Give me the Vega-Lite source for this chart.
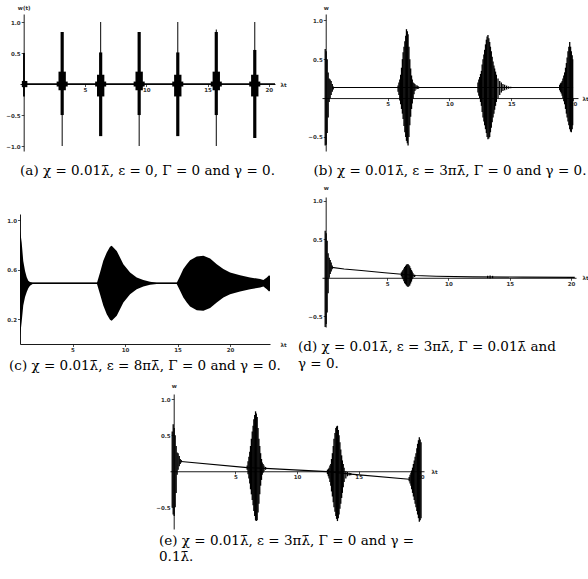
{
  "$schema": "https://vega.github.io/schema/vega-lite/v6.json",
  "background": "white",
  "padding": {"left": 5, "top": 5, "right": 0, "bottom": 0},
  "config": {
    "view": {"stroke": null},
    "axis": {"domainColor": "#000", "domainWidth": 0.9, "tickColor": "#000", "tickWidth": 0.7, "tickSize": 2.5, "labelFont": "DejaVu Sans", "labelFontSize": 5.5, "labelFontWeight": "bold", "labelColor": "#333", "labelPadding": 1, "grid": false, "labelOverlap": false, "labelFlush": false, "labelBound": false, "titleFont": "DejaVu Sans", "titleFontSize": 5.5, "titleFontWeight": "bold", "titleColor": "#333", "titleAngle": 0, "titlePadding": 0},
    "title": {"font": "DejaVu Serif", "fontSize": 13.5, "fontWeight": "normal", "color": "#000", "frame": "group"}
  },
  "datasets": {
    "a_rects": [
      {"t0": -0.05, "t1": 0.1, "lo": -0.2, "hi": 0.5},
      {"t0": -0.15, "t1": 0.3, "lo": -0.05, "hi": 0.05},
      {"t0": 3.10, "t1": 3.18, "lo": -1.0, "hi": 0.84},
      {"t0": 3.01, "t1": 3.27, "lo": -0.5, "hi": 0.84},
      {"t0": 2.84, "t1": 3.44, "lo": -0.1, "hi": 0.2},
      {"t0": 2.69, "t1": 3.59, "lo": -0.04, "hi": 0.04},
      {"t0": 6.24, "t1": 6.32, "lo": -0.84, "hi": 1.0},
      {"t0": 6.15, "t1": 6.41, "lo": -0.84, "hi": 0.51},
      {"t0": 5.98, "t1": 6.58, "lo": -0.2, "hi": 0.15},
      {"t0": 5.83, "t1": 6.73, "lo": -0.04, "hi": 0.04},
      {"t0": 9.38, "t1": 9.46, "lo": -1.0, "hi": 0.84},
      {"t0": 9.29, "t1": 9.55, "lo": -0.5, "hi": 0.84},
      {"t0": 9.12, "t1": 9.72, "lo": -0.1, "hi": 0.2},
      {"t0": 8.97, "t1": 9.87, "lo": -0.04, "hi": 0.04},
      {"t0": 12.53, "t1": 12.61, "lo": -0.84, "hi": 1.0},
      {"t0": 12.44, "t1": 12.70, "lo": -0.84, "hi": 0.51},
      {"t0": 12.27, "t1": 12.87, "lo": -0.2, "hi": 0.15},
      {"t0": 12.12, "t1": 13.02, "lo": -0.04, "hi": 0.04},
      {"t0": 15.67, "t1": 15.75, "lo": -1.0, "hi": 0.88},
      {"t0": 15.58, "t1": 15.84, "lo": -0.5, "hi": 0.84},
      {"t0": 15.41, "t1": 16.01, "lo": -0.1, "hi": 0.2},
      {"t0": 15.26, "t1": 16.16, "lo": -0.04, "hi": 0.04},
      {"t0": 18.81, "t1": 18.89, "lo": -0.87, "hi": 1.0},
      {"t0": 18.72, "t1": 18.98, "lo": -0.87, "hi": 0.55},
      {"t0": 18.55, "t1": 19.15, "lo": -0.2, "hi": 0.15},
      {"t0": 18.40, "t1": 19.30, "lo": -0.04, "hi": 0.04}
    ],
    "a_line": [{"t": 0, "w": 0}, {"t": 20.5, "w": 0}],
    "b_rules": [
      {"t": -0.04, "lo": -0.61, "hi": 0.63}, {"t": 0.04, "lo": -0.6, "hi": 0.6}, {"t": 0.12, "lo": -0.45, "hi": 0.5}, {"t": 0.2, "lo": -0.25, "hi": 0.33}, {"t": 0.28, "lo": -0.05, "hi": 0.25}, {"t": 0.36, "lo": 0.0, "hi": 0.24}, {"t": 0.44, "lo": 0.04, "hi": 0.22}, {"t": 0.53, "lo": 0.08, "hi": 0.18}, {"t": 0.61, "lo": 0.11, "hi": 0.15},
      {"t": 5.85, "lo": 0.08, "hi": 0.16}, {"t": 5.92, "lo": 0.04, "hi": 0.2}, {"t": 5.99, "lo": -0.03, "hi": 0.24}, {"t": 6.06, "lo": -0.08, "hi": 0.3}, {"t": 6.13, "lo": -0.14, "hi": 0.39}, {"t": 6.2, "lo": -0.2, "hi": 0.5}, {"t": 6.26, "lo": -0.27, "hi": 0.59}, {"t": 6.33, "lo": -0.36, "hi": 0.66}, {"t": 6.4, "lo": -0.44, "hi": 0.73}, {"t": 6.47, "lo": -0.5, "hi": 0.8}, {"t": 6.53, "lo": -0.55, "hi": 0.885}, {"t": 6.6, "lo": -0.58, "hi": 0.86}, {"t": 6.66, "lo": -0.61, "hi": 0.82}, {"t": 6.73, "lo": -0.5, "hi": 0.66}, {"t": 6.8, "lo": -0.35, "hi": 0.5}, {"t": 6.87, "lo": -0.24, "hi": 0.38}, {"t": 6.94, "lo": -0.14, "hi": 0.29}, {"t": 7.0, "lo": -0.07, "hi": 0.24}, {"t": 7.07, "lo": -0.01, "hi": 0.2}, {"t": 7.14, "lo": 0.05, "hi": 0.19}, {"t": 7.21, "lo": 0.09, "hi": 0.18}, {"t": 7.3, "lo": 0.11, "hi": 0.165}, {"t": 7.4, "lo": 0.115, "hi": 0.16}, {"t": 7.5, "lo": 0.12, "hi": 0.15},
      {"t": 12.31, "lo": 0.07, "hi": 0.2}, {"t": 12.38, "lo": 0.03, "hi": 0.24}, {"t": 12.45, "lo": 0.0, "hi": 0.27}, {"t": 12.52, "lo": -0.05, "hi": 0.31}, {"t": 12.59, "lo": -0.1, "hi": 0.35}, {"t": 12.65, "lo": -0.18, "hi": 0.43}, {"t": 12.72, "lo": -0.25, "hi": 0.5}, {"t": 12.79, "lo": -0.3, "hi": 0.56}, {"t": 12.85, "lo": -0.35, "hi": 0.62}, {"t": 12.92, "lo": -0.4, "hi": 0.69}, {"t": 12.99, "lo": -0.45, "hi": 0.75}, {"t": 13.05, "lo": -0.5, "hi": 0.79}, {"t": 13.12, "lo": -0.53, "hi": 0.81}, {"t": 13.19, "lo": -0.52, "hi": 0.77}, {"t": 13.26, "lo": -0.5, "hi": 0.72}, {"t": 13.32, "lo": -0.44, "hi": 0.66}, {"t": 13.39, "lo": -0.38, "hi": 0.6}, {"t": 13.46, "lo": -0.31, "hi": 0.53}, {"t": 13.53, "lo": -0.25, "hi": 0.47}, {"t": 13.6, "lo": -0.2, "hi": 0.42}, {"t": 13.66, "lo": -0.15, "hi": 0.38}, {"t": 13.73, "lo": -0.1, "hi": 0.34}, {"t": 13.8, "lo": -0.05, "hi": 0.3}, {"t": 13.93, "lo": 0.0, "hi": 0.25}, {"t": 14.07, "lo": 0.04, "hi": 0.22}, {"t": 14.2, "lo": 0.07, "hi": 0.2}, {"t": 14.33, "lo": 0.09, "hi": 0.18}, {"t": 14.47, "lo": 0.1, "hi": 0.17}, {"t": 14.63, "lo": 0.11, "hi": 0.16}, {"t": 14.79, "lo": 0.12, "hi": 0.15}, {"t": 14.96, "lo": 0.125, "hi": 0.145},
      {"t": 18.92, "lo": 0.1, "hi": 0.17}, {"t": 18.99, "lo": 0.08, "hi": 0.19}, {"t": 19.05, "lo": 0.06, "hi": 0.2}, {"t": 19.12, "lo": 0.03, "hi": 0.22}, {"t": 19.18, "lo": 0.0, "hi": 0.25}, {"t": 19.25, "lo": -0.04, "hi": 0.29}, {"t": 19.32, "lo": -0.08, "hi": 0.33}, {"t": 19.39, "lo": -0.14, "hi": 0.39}, {"t": 19.46, "lo": -0.2, "hi": 0.45}, {"t": 19.52, "lo": -0.25, "hi": 0.52}, {"t": 19.59, "lo": -0.3, "hi": 0.6}, {"t": 19.66, "lo": -0.35, "hi": 0.66}, {"t": 19.73, "lo": -0.4, "hi": 0.72}, {"t": 19.8, "lo": -0.43, "hi": 0.66}, {"t": 19.86, "lo": -0.44, "hi": 0.6}, {"t": 19.93, "lo": -0.4, "hi": 0.55}, {"t": 19.97, "lo": -0.35, "hi": 0.5}
    ],
    "b_line": [{"t": 0.5, "w": 0.135}, {"t": 20.0, "w": 0.135}],
    "c_area": [
      {"t": 0, "lo": 0.07, "hi": 0.91}, {"t": 0.08, "lo": 0.12, "hi": 0.87}, {"t": 0.16, "lo": 0.18, "hi": 0.82}, {"t": 0.31, "lo": 0.31, "hi": 0.67}, {"t": 0.48, "lo": 0.38, "hi": 0.59}, {"t": 0.64, "lo": 0.42, "hi": 0.54}, {"t": 0.79, "lo": 0.45, "hi": 0.51}, {"t": 0.95, "lo": 0.47, "hi": 0.5}, {"t": 1.2, "lo": 0.485, "hi": 0.495},
      {"t": 7.33, "lo": 0.485, "hi": 0.495}, {"t": 7.62, "lo": 0.402, "hi": 0.578}, {"t": 7.93, "lo": 0.31, "hi": 0.672}, {"t": 8.26, "lo": 0.24, "hi": 0.74}, {"t": 8.57, "lo": 0.195, "hi": 0.785}, {"t": 8.73, "lo": 0.187, "hi": 0.793}, {"t": 9.21, "lo": 0.228, "hi": 0.752}, {"t": 9.84, "lo": 0.335, "hi": 0.645}, {"t": 10.48, "lo": 0.402, "hi": 0.578}, {"t": 11.11, "lo": 0.442, "hi": 0.538}, {"t": 11.74, "lo": 0.464, "hi": 0.516}, {"t": 12.38, "lo": 0.478, "hi": 0.502}, {"t": 13.02, "lo": 0.485, "hi": 0.495},
      {"t": 14.92, "lo": 0.485, "hi": 0.495}, {"t": 15.24, "lo": 0.43, "hi": 0.55}, {"t": 15.55, "lo": 0.375, "hi": 0.605}, {"t": 15.88, "lo": 0.335, "hi": 0.645}, {"t": 16.19, "lo": 0.303, "hi": 0.677}, {"t": 16.83, "lo": 0.273, "hi": 0.707}, {"t": 17.46, "lo": 0.268, "hi": 0.712}, {"t": 18.1, "lo": 0.29, "hi": 0.69}, {"t": 18.73, "lo": 0.335, "hi": 0.645}, {"t": 19.36, "lo": 0.375, "hi": 0.605}, {"t": 20.0, "lo": 0.402, "hi": 0.578}, {"t": 20.95, "lo": 0.424, "hi": 0.556}, {"t": 21.9, "lo": 0.442, "hi": 0.538}, {"t": 22.86, "lo": 0.456, "hi": 0.524}, {"t": 23.17, "lo": 0.464, "hi": 0.516}, {"t": 23.5, "lo": 0.442, "hi": 0.538}, {"t": 23.71, "lo": 0.424, "hi": 0.556}, {"t": 23.8, "lo": 0.43, "hi": 0.55}
    ],
    "c_line": [{"t": 0.9, "w": 0.49}, {"t": 23.8, "w": 0.49}],
    "d_rules": [
      {"t": -0.04, "lo": -0.64, "hi": 0.61}, {"t": 0.04, "lo": -0.6, "hi": 0.58}, {"t": 0.12, "lo": -0.45, "hi": 0.48}, {"t": 0.2, "lo": -0.2, "hi": 0.32}, {"t": 0.29, "lo": 0.0, "hi": 0.26}, {"t": 0.37, "lo": 0.05, "hi": 0.23}, {"t": 0.45, "lo": 0.08, "hi": 0.2}, {"t": 0.53, "lo": 0.11, "hi": 0.16},
      {"t": 6.17, "lo": 0.02, "hi": 0.07}, {"t": 6.24, "lo": 0.0, "hi": 0.085}, {"t": 6.3, "lo": -0.02, "hi": 0.1}, {"t": 6.37, "lo": -0.045, "hi": 0.12}, {"t": 6.44, "lo": -0.07, "hi": 0.14}, {"t": 6.51, "lo": -0.085, "hi": 0.155}, {"t": 6.58, "lo": -0.1, "hi": 0.17}, {"t": 6.64, "lo": -0.11, "hi": 0.175}, {"t": 6.71, "lo": -0.12, "hi": 0.18}, {"t": 6.78, "lo": -0.11, "hi": 0.165}, {"t": 6.85, "lo": -0.1, "hi": 0.15}, {"t": 6.92, "lo": -0.075, "hi": 0.125}, {"t": 6.99, "lo": -0.05, "hi": 0.1}, {"t": 7.05, "lo": -0.02, "hi": 0.08}, {"t": 7.12, "lo": 0.0, "hi": 0.06}, {"t": 7.25, "lo": 0.01, "hi": 0.04},
      {"t": 13.2, "lo": -0.005, "hi": 0.025}, {"t": 13.4, "lo": -0.01, "hi": 0.03}, {"t": 13.6, "lo": -0.005, "hi": 0.025}
    ],
    "d_line": [{"t": 0.5, "w": 0.135}, {"t": 1.5, "w": 0.115}, {"t": 2.9, "w": 0.095}, {"t": 4.8, "w": 0.065}, {"t": 6.2, "w": 0.045}, {"t": 7.3, "w": 0.03}, {"t": 9, "w": 0.02}, {"t": 12, "w": 0.012}, {"t": 16, "w": 0.008}, {"t": 20.3, "w": 0.005}],
    "e_rules": [
      {"t": -0.12, "lo": -0.5, "hi": 0.55}, {"t": -0.04, "lo": -0.6, "hi": 0.65}, {"t": 0.04, "lo": -0.62, "hi": 0.6}, {"t": 0.12, "lo": -0.5, "hi": 0.5}, {"t": 0.2, "lo": -0.3, "hi": 0.35}, {"t": 0.28, "lo": -0.05, "hi": 0.26}, {"t": 0.36, "lo": 0.02, "hi": 0.25}, {"t": 0.45, "lo": 0.07, "hi": 0.21}, {"t": 0.53, "lo": 0.1, "hi": 0.17}, {"t": 0.61, "lo": 0.12, "hi": 0.155},
      {"t": 5.96, "lo": 0.02, "hi": 0.08}, {"t": 6.03, "lo": -0.04, "hi": 0.14}, {"t": 6.1, "lo": -0.1, "hi": 0.2}, {"t": 6.17, "lo": -0.17, "hi": 0.27}, {"t": 6.23, "lo": -0.25, "hi": 0.35}, {"t": 6.3, "lo": -0.32, "hi": 0.45}, {"t": 6.37, "lo": -0.4, "hi": 0.55}, {"t": 6.44, "lo": -0.47, "hi": 0.63}, {"t": 6.5, "lo": -0.55, "hi": 0.72}, {"t": 6.57, "lo": -0.62, "hi": 0.78}, {"t": 6.64, "lo": -0.68, "hi": 0.83}, {"t": 6.7, "lo": -0.69, "hi": 0.8}, {"t": 6.77, "lo": -0.68, "hi": 0.75}, {"t": 6.84, "lo": -0.57, "hi": 0.6}, {"t": 6.91, "lo": -0.45, "hi": 0.45}, {"t": 6.98, "lo": -0.32, "hi": 0.35}, {"t": 7.05, "lo": -0.2, "hi": 0.25}, {"t": 7.12, "lo": -0.12, "hi": 0.17}, {"t": 7.18, "lo": -0.05, "hi": 0.12}, {"t": 7.25, "lo": -0.02, "hi": 0.1}, {"t": 7.32, "lo": 0.0, "hi": 0.08}, {"t": 7.45, "lo": 0.02, "hi": 0.06},
      {"t": 12.47, "lo": -0.04, "hi": 0.02}, {"t": 12.54, "lo": -0.07, "hi": 0.03}, {"t": 12.6, "lo": -0.1, "hi": 0.05}, {"t": 12.67, "lo": -0.15, "hi": 0.08}, {"t": 12.74, "lo": -0.2, "hi": 0.1}, {"t": 12.8, "lo": -0.28, "hi": 0.17}, {"t": 12.87, "lo": -0.35, "hi": 0.25}, {"t": 12.94, "lo": -0.43, "hi": 0.35}, {"t": 13.0, "lo": -0.5, "hi": 0.45}, {"t": 13.08, "lo": -0.56, "hi": 0.53}, {"t": 13.15, "lo": -0.62, "hi": 0.6}, {"t": 13.21, "lo": -0.66, "hi": 0.62}, {"t": 13.28, "lo": -0.69, "hi": 0.63}, {"t": 13.35, "lo": -0.65, "hi": 0.57}, {"t": 13.41, "lo": -0.6, "hi": 0.5}, {"t": 13.48, "lo": -0.52, "hi": 0.4}, {"t": 13.55, "lo": -0.45, "hi": 0.3}, {"t": 13.62, "lo": -0.37, "hi": 0.22}, {"t": 13.68, "lo": -0.3, "hi": 0.15}, {"t": 13.75, "lo": -0.22, "hi": 0.1}, {"t": 13.82, "lo": -0.15, "hi": 0.05}, {"t": 13.96, "lo": -0.1, "hi": 0.0}, {"t": 14.09, "lo": -0.07, "hi": -0.01}, {"t": 14.23, "lo": -0.06, "hi": -0.02}, {"t": 14.36, "lo": -0.055, "hi": -0.025},
      {"t": 19.1, "lo": -0.14, "hi": -0.08}, {"t": 19.17, "lo": -0.17, "hi": -0.05}, {"t": 19.24, "lo": -0.2, "hi": -0.02}, {"t": 19.3, "lo": -0.25, "hi": 0.01}, {"t": 19.37, "lo": -0.3, "hi": 0.05}, {"t": 19.44, "lo": -0.35, "hi": 0.1}, {"t": 19.51, "lo": -0.4, "hi": 0.15}, {"t": 19.58, "lo": -0.45, "hi": 0.2}, {"t": 19.65, "lo": -0.5, "hi": 0.25}, {"t": 19.72, "lo": -0.55, "hi": 0.32}, {"t": 19.78, "lo": -0.6, "hi": 0.38}, {"t": 19.85, "lo": -0.65, "hi": 0.43}, {"t": 19.92, "lo": -0.7, "hi": 0.47}, {"t": 19.99, "lo": -0.68, "hi": 0.44}, {"t": 20.06, "lo": -0.65, "hi": 0.4}
    ],
    "e_line": [{"t": 0.6, "w": 0.135}, {"t": 5.96, "w": 0.05}, {"t": 7.45, "w": 0.04}, {"t": 12.47, "w": -0.005}, {"t": 14.36, "w": -0.04}, {"t": 19.1, "w": -0.11}],
    "empty": []
  },
  "vconcat": [
    {
      "hconcat": [
        {
          "vconcat": [
            {
              "width": 255, "height": 137,
              "title": {"text": "(a) χ = 0.01λ̄, ε = 0, Γ = 0 and γ = 0.", "orient": "bottom", "anchor": "middle", "offset": 13},
              "layer": [
                {"data": {"name": "a_rects"}, "mark": {"type": "rect", "color": "#000"},
                 "encoding": {
                   "x": {"field": "t0", "type": "quantitative", "scale": {"domain": [-0.3, 20.5], "nice": false, "zero": false},
                         "axis": {"title": "λt", "titleX": 263, "titleY": 0, "titleAlign": "center", "titleBaseline": "middle", "offset": -67, "labelOverlap": false, "values": [5, 10, 15, 20], "format": "d"}},
                   "x2": {"field": "t1"},
                   "y": {"field": "lo", "type": "quantitative", "scale": {"domain": [-1.08, 1.13], "nice": false, "zero": false},
                         "axis": {"title": "w(t)", "titleX": 0, "titleY": -7, "titleAlign": "center", "titleBaseline": "middle", "offset": -3.68, "labelOverlap": false, "values": [-1, -0.5, 0.5, 1], "format": ".1f"}},
                   "y2": {"field": "hi"}
                 }},
                {"data": {"name": "a_line"}, "mark": {"type": "line", "color": "#000", "strokeWidth": 1.4},
                 "encoding": {"x": {"field": "t", "type": "quantitative"}, "y": {"field": "w", "type": "quantitative"}}}
              ]
            },
            {
              "width": 250, "height": 130,
              "title": {"text": "(c) χ = 0.01λ̄, ε = 8πλ̄, Γ = 0 and γ = 0.", "orient": "bottom", "anchor": "middle", "offset": 6},
              "layer": [
                {"data": {"name": "c_area"}, "mark": {"type": "area", "color": "#000", "opacity": 1},
                 "encoding": {
                   "x": {"field": "t", "type": "quantitative", "scale": {"domain": [0, 23.8], "nice": false, "zero": false},
                         "axis": {"title": "λt", "titleX": 263, "titleY": 0, "titleAlign": "center", "titleBaseline": "middle", "labelOverlap": false, "values": [5, 10, 15, 20], "format": "d"}},
                   "y": {"field": "hi", "type": "quantitative", "scale": {"domain": [0, 1.05], "nice": false, "zero": false},
                         "axis": {"title": null, "labelOverlap": false, "labelSeparation": 0, "values": [0.2, 0.4, 0.6, 0.8, 1.0], "format": ".1f"}},
                   "y2": {"field": "lo"}
                 }},
                {"data": {"name": "c_line"}, "mark": {"type": "line", "color": "#000", "strokeWidth": 1.5},
                 "encoding": {"x": {"field": "t", "type": "quantitative"}, "y": {"field": "w", "type": "quantitative"}}}
              ]
            }
          ],
          "spacing": 63, "bounds": "flush"
        },
        {
          "vconcat": [
            {
              "width": 256, "height": 137,
              "title": {"text": "(b) χ = 0.01λ̄, ε = 3πλ̄, Γ = 0 and γ = 0.", "orient": "bottom", "anchor": "middle", "offset": 13},
              "layer": [
                {"data": {"name": "b_rules"}, "mark": {"type": "rule", "color": "#000", "strokeWidth": 1.3},
                 "encoding": {
                   "x": {"field": "t", "type": "quantitative", "scale": {"domain": [-0.3, 20.4], "nice": false, "zero": false},
                         "axis": {"title": "λt", "titleX": 263, "titleY": 0, "titleAlign": "center", "titleBaseline": "middle", "offset": -52.93, "labelOverlap": false, "values": [5, 10, 15, 20], "format": "d"}},
                   "y": {"field": "lo", "type": "quantitative", "scale": {"domain": [-0.68, 1.08], "nice": false, "zero": false},
                         "axis": {"title": "w", "titleX": 0, "titleY": -7, "titleAlign": "center", "titleBaseline": "middle", "offset": -3.71, "labelOverlap": false, "values": [-0.5, 0.5, 1], "format": ".1f"}},
                   "y2": {"field": "hi"}
                 }},
                {"data": {"name": "b_line"}, "mark": {"type": "line", "color": "#000", "strokeWidth": 1.1},
                 "encoding": {"x": {"field": "t", "type": "quantitative"}, "y": {"field": "w", "type": "quantitative"}}}
              ]
            },
            {
              "width": 254, "height": 130,
              "title": {"text": ["(d) χ = 0.01λ̄, ε = 3πλ̄, Γ = 0.01λ̄ and", "γ = 0."], "orient": "bottom", "anchor": "start", "dx": -24, "offset": 12, "lineHeight": 17},
              "layer": [
                {"data": {"name": "d_rules"}, "mark": {"type": "rule", "color": "#000", "strokeWidth": 1.3},
                 "encoding": {
                   "x": {"field": "t", "type": "quantitative", "scale": {"domain": [-0.3, 20.4], "nice": false, "zero": false},
                         "axis": {"title": "λt", "titleX": 263, "titleY": 0, "titleAlign": "center", "titleBaseline": "middle", "offset": -49.23, "labelOverlap": false, "values": [5, 10, 15, 20], "format": "d"}},
                   "y": {"field": "lo", "type": "quantitative", "scale": {"domain": [-0.64, 1.05], "nice": false, "zero": false},
                         "axis": {"title": "w", "titleX": 0, "titleY": -10, "titleAlign": "center", "titleBaseline": "middle", "offset": -3.68, "labelOverlap": false, "values": [-0.5, 0.5, 1], "format": ".1f"}},
                   "y2": {"field": "hi"}
                 }},
                {"data": {"name": "d_line"}, "mark": {"type": "line", "color": "#000", "strokeWidth": 1.1},
                 "encoding": {"x": {"field": "t", "type": "quantitative"}, "y": {"field": "w", "type": "quantitative"}}}
              ]
            }
          ],
          "spacing": 46, "bounds": "flush"
        }
      ],
      "spacing": 11
    },
    {
      "hconcat": [
        {"width": 150, "height": 10, "data": {"name": "empty"}, "mark": "point"},
        {
          "width": 254, "height": 135,
          "title": {"text": ["(e) χ = 0.01λ̄, ε = 3πλ̄, Γ = 0 and γ =", "0.1λ̄."], "orient": "bottom", "anchor": "start", "dx": -11, "offset": 5, "lineHeight": 16},
          "layer": [
            {"data": {"name": "e_rules"}, "mark": {"type": "rule", "color": "#000", "strokeWidth": 1.3},
             "encoding": {
               "x": {"field": "t", "type": "quantitative", "scale": {"domain": [-0.3, 20.3], "nice": false, "zero": false},
                     "axis": {"title": "λt", "titleX": 264, "titleY": 0, "titleAlign": "center", "titleBaseline": "middle", "offset": -57.75, "labelOverlap": false, "values": [5, 10, 15, 20], "format": "d"}},
               "y": {"field": "lo", "type": "quantitative", "scale": {"domain": [-0.8, 1.07], "nice": false, "zero": false},
                     "axis": {"title": "w", "titleX": 0, "titleY": -9, "titleAlign": "center", "titleBaseline": "middle", "offset": -3.7, "labelOverlap": false, "values": [-0.5, 0.5, 1], "format": ".1f"}},
               "y2": {"field": "hi"}
             }},
            {"data": {"name": "e_line"}, "mark": {"type": "line", "color": "#000", "strokeWidth": 1.1},
             "encoding": {"x": {"field": "t", "type": "quantitative"}, "y": {"field": "w", "type": "quantitative"}}}
          ]
        }
      ],
      "spacing": 0, "bounds": "flush"
    }
  ],
  "spacing": 10
}
